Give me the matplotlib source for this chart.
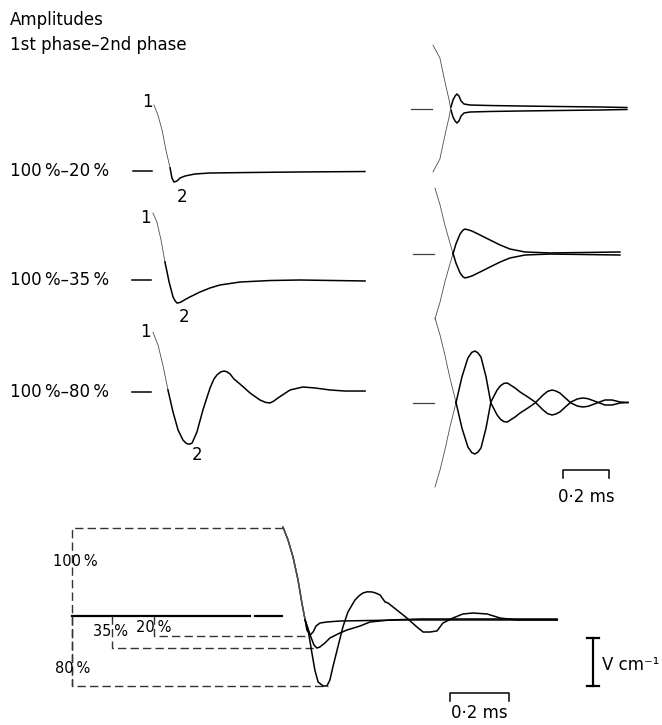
import matplotlib.pyplot as plt
import numpy as np

# left column: single traces (time in ms, amplitude in % of 1st phase)
tA = [0, .017, .035, .052, .070, .078, .087, .100, .113, .135, .178, .243, .417, .635, .917]
aA = [101.5, 86, 63, 32, 4.6, -10.8, -17, -15.4, -10.8, -7.7, -4.6, -3.1, -2.3, -1.5, -0.8]
tB = [0, .017, .035, .052, .070, .087, .096, .104, .113, .122, .140, .161, .204, .248, .291, .378, .509, .639, .922]
aB = [103, 89, 61.5, 27.7, -3.1, -26, -32, -35.4, -35, -33.8, -30, -26, -18.5, -12.3, -7.7, -3.1, -0.8, 0, -1.5]
tC = [0, .022, .043, .065, .087, .109, .130, .143, .152, .161, .170, .191, .217, .248, .265, .278, .295,
      .309, .322, .335, .352, .378, .422, .465, .490, .509, .525, .543, .596, .652, .704, .770, .835, .922]
aC = [92, 72, 41.5, 3.1, -30.8, -58.5, -73.8, -78.5, -80, -80, -78.5, -61.5, -27.7, 6.2, 20, 26.2, 31,
      32.3, 31, 27.7, 20, 12.3, -1.5, -12.3, -16, -16.9, -14, -9.2, 3.1, 7.7, 6.2, 3.1, 1.5, 1.5]
left_labels = ['100\u2009%–20\u2009%', '100\u2009%–35\u2009%', '100\u2009%–80\u2009%']

# right column: recorded trace, drawn with its inverted copy
rtA = [0, .030, .043, .056, .070, .078, .087, .096, .104, .113, .122, .135, .161, .248, .378, .552, .726, .843]
raA = [96, 76.5, 55, 34, 12.9, -2.3, -12.9, -18.9, -22, -18.9, -11.4, -6.8, -5.3, -4.5, -3.8, -3, -2.3, -1.5]
rtB = [0, .022, .043, .065, .078, .091, .109, .122, .130, .143, .161, .196, .239, .283, .326, .391, .5, .804]
raB = [99, 73.5, 43, 15.9, 0.8, -14.4, -29.5, -35.5, -37, -36, -34, -28, -20.5, -12.9, -6.8, -2.3, -0.8, -2.3]
rtC = [0, .022, .043, .065, .091, .117, .143, .160, .174, .187, .2, .222, .243, .270, .285, .300, .315,
       .330, .348, .370, .404, .435, .470, .490, .509, .525, .543, .591, .620, .643, .665, .704, .739,
       .770, .804, .839]
raC = [128, 102, 72, 37, 0.8, -38.6, -67.4, -76, -78, -75, -68.9, -38.6, 0.8, 18.9, 25.5, 29, 29.5,
       26, 22, 15.9, 8.3, 0.8, -11.4, -17, -18.9, -17.5, -14.4, 0.8, 5.5, 6.8, 5.8, 0.8, -3.8,
       -3.8, -0.8, 0]

# bottom: superimposed traces
t80 = [0, .017, .034, .051, .064, .075, .085, .098, .108, .119, .136, .149, .159, .169, .186, .203,
       .220, .244, .258, .271, .285, .302, .315, .329, .346, .356, .386, .420, .454, .475, .498, .522,
       .542, .576, .610, .644, .692, .736, .793, .929]
a80 = [101, 86.4, 67, 40.9, 14.8, -4.5, -15.9, -42, -61.4, -75, -79.5, -79.5, -72.7, -58, -35.2, -12.5,
       4.5, 18.2, 23, 26.1, 27.5, 27.3, 26, 23.9, 15.9, 14.8, 6.8, -2.3, -12.5, -18.2, -18.2, -17,
       -8, -2.3, 2.3, 3.4, 2.3, -2.3, -4.5, -4.5]
t35 = [0, .017, .034, .051, .064, .075, .092, .105, .115, .125, .142, .159, .193, .217, .261, .295, .363, .464, .929]
a35 = [101, 86.4, 67, 40.9, 14.8, -4.5, -21.6, -33, -36.4, -35.2, -30.7, -25, -19.3, -15.9, -11.4, -6.8, -4.5, -3.4, -3.4]
t20 = [0, .017, .034, .051, .064, .075, .081, .092, .102, .112, .125, .149, .193, .397, .929]
a20 = [101, 86.4, 67, 40.9, 14.8, -4.5, -15.9, -21.6, -18.2, -11.4, -8, -6.8, -5.7, -4.5, -4.5]
base_t = [-0.715, -0.112, np.nan, -0.095, -0.003]
base_a = [0, 0, np.nan, 0, 0]
# amplitude brackets: label, level, start, end
br_labels = ['20\u2009%', '35\u2009%', '80\u2009%']
br_level = [-22.7, -36.4, -80]
br_start = [-0.437, -0.58, -0.715]
br_end = [.085, .115, .153]

W, H = 662, 725
fig = plt.figure(figsize=(W / 100, H / 100), dpi=100)
plt.rcParams['font.family'] = ['DejaVu Sans']


def panel(box, origin, px_ms, px_pct):
    x0, x1, y0, y1 = box
    ox, oy = origin
    ax = fig.add_axes([x0 / W, 1 - y1 / H, (x1 - x0) / W, (y1 - y0) / H])
    ax.set_xlim((x0 - ox) / px_ms, (x1 - ox) / px_ms)
    ax.set_ylim((oy - y1) / px_pct, (oy - y0) / px_pct)
    ax.axis('off')
    ax.patch.set_alpha(0)
    return ax


def trace(ax, t, a, nfast, sign=1, lw_fast=0.6):
    t = np.asarray(t)
    a = sign * np.asarray(a)
    ax.plot(t[:nfast + 1], a[:nfast + 1], color='0.3', lw=lw_fast)
    ax.plot(t[nfast:], a[nfast:], color='black', lw=1.1, solid_joinstyle='round')


fig.text(10 / W, 1 - 20 / H, 'Amplitudes', fontsize=12, va='center')
fig.text(10 / W, 1 - 45 / H, '1st phase–2nd phase', fontsize=12, va='center')

# left column
left = [(tA, aA, 4), (tB, aB, 3), (tC, aC, 3)]
left_orig = [(154, 171), (153, 280), (153, 392)]
left_box = [(0, 380, 80, 200), (0, 380, 200, 320), (0, 380, 320, 470)]
one_pos = [(-0.03, 106), (-0.035, 95), (-0.035, 92)]
two_pos = [(0.122, -40), (0.135, -57), (0.191, -97)]
for i in range(3):
    ax = panel(left_box[i], left_orig[i], 230, 0.65)
    t, a, nf = left[i]
    trace(ax, t, a, nf)
    ax.plot([-0.092, -0.01], [0, 0], color='black', lw=1.1)
    ax.text((10 - left_orig[i][0]) / 230, 0, left_labels[i], fontsize=12, va='center', ha='left')
    ax.text(*one_pos[i], '1', fontsize=12, ha='center', va='center')
    ax.text(*two_pos[i], '2', fontsize=12, ha='center', va='center')

# right column
right = [(rtA, raA, 5), (rtB, raB, 4), (rtC, raC, 4)]
right_orig = [(433, 108.5), (435, 253.5), (435, 402.5)]
right_box = [(400, 662, 35, 190), (400, 662, 180, 330), (400, 662, 305, 510)]
for i in range(3):
    ax = panel(right_box[i], right_orig[i], 230, 0.66)
    t, a, nf = right[i]
    trace(ax, t, a, nf)
    trace(ax, t, a, nf, sign=-1)
    ax.plot([-0.094, -0.005], [0, 0], color='0.25', lw=0.9)
    if i == 2:
        ax.plot([.557, .557, .757, .757], [-114, -102, -102, -114], color='black', lw=1.1)
        ax.text(.657, -143, '0·2 ms', fontsize=12, ha='center', va='center')

# bottom panel
ax = panel((30, 662, 505, 725), (283, 616), 295, 0.88)
ax.plot(base_t, base_a, color='black', lw=1.6)
dash = dict(color='0.2', lw=1.0, dashes=(6, 3))
ax.plot([0, -0.715, -0.715], [100, 100, -80], **dash)
for i in range(3):
    ax.plot([br_start[i], br_start[i], br_end[i]], [0, br_level[i], br_level[i]], **dash)
trace(ax, t20, a20, 5, lw_fast=1.0)
trace(ax, t35, a35, 5, lw_fast=1.0)
trace(ax, t80, a80, 5, lw_fast=1.0)
ax.text(-0.705, 62.5, '100\u2009%', fontsize=10.5, ha='center', va='center')
ax.text(-0.44, -12.5, br_labels[0], fontsize=10.5, ha='center', va='center')
ax.text(-0.586, -18, br_labels[1], fontsize=10.5, ha='center', va='center')
ax.text(-0.712, -60, br_labels[2], fontsize=10.5, ha='center', va='center')
ax.plot([.566, .566, .766, .766], [-96.6, -87.5, -87.5, -96.6], color='black', lw=1.1)
ax.text(.666, -110, '0·2 ms', fontsize=12, ha='center', va='center')
ax.plot([1.051, 1.051], [-25, -79.5], color='black', lw=1.6)
ax.plot([1.032, 1.07], [-25, -25], color='black', lw=1.6)
ax.plot([1.032, 1.07], [-79.5, -79.5], color='black', lw=1.6)
ax.text(1.081, -56, 'V cm⁻¹', fontsize=12, ha='left', va='center')

fig.savefig('out.png', dpi=100)
